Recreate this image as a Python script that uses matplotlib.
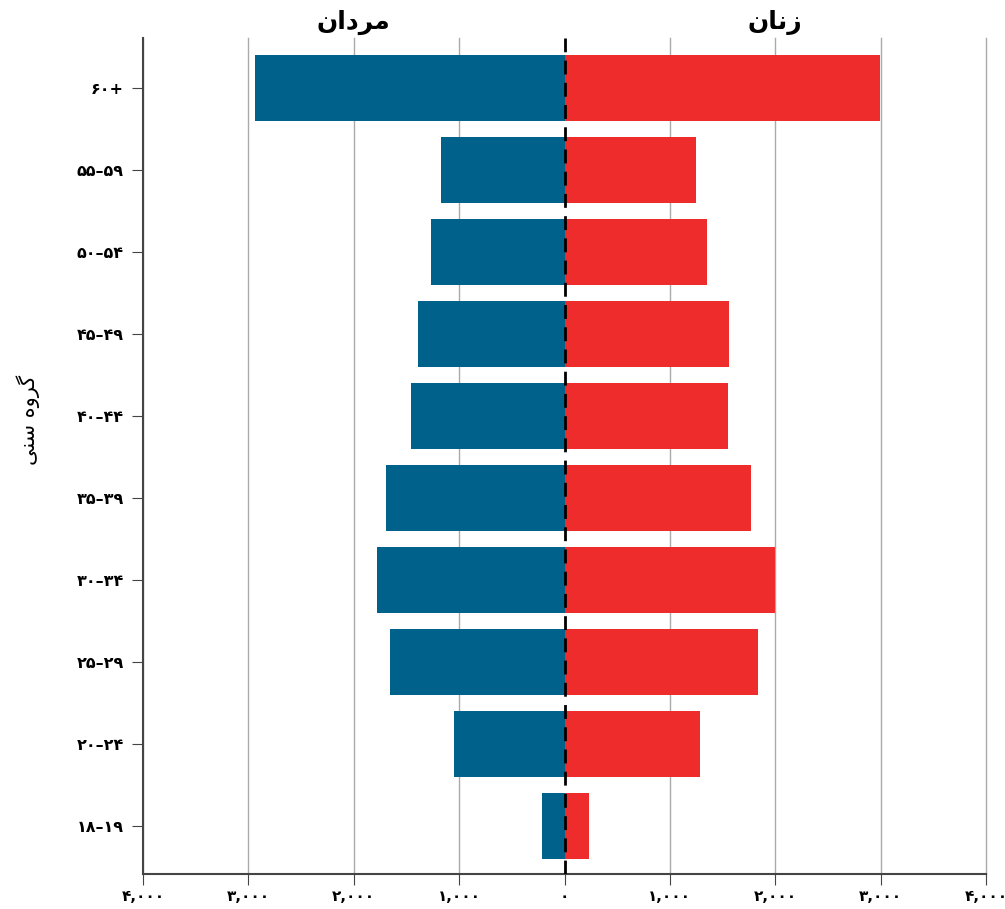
import matplotlib
matplotlib.use("Agg")
import matplotlib.pyplot as plt
import numpy as np

fa_digits = str.maketrans("0123456789", "۰۱۲۳۴۵۶۷۸۹")

age_groups = ["18–19", "20–24", "25–29", "30–34", "35–39", "40–44", "45–49", "50–54", "55–59", "60+"]
men = [218, 1053, 1660, 1784, 1698, 1452, 1395, 1271, 1176, 2940]
women = [228, 1290, 1841, 2002, 1774, 1556, 1565, 1357, 1252, 2998]
x_ticks = [-4000, -3000, -2000, -1000, 0, 1000, 2000, 3000, 4000]

# Pre-shaped visual-order Persian strings (matplotlib has no bidi shaping)
label_men = "\uFEE5\uFE8D\uFEA9\uFEAE\uFEE3"          # مردان
label_women = "\uFEE5\uFE8E\uFEE7\uFEAF"              # زنان
label_age = "\uFEF0\uFEE8\uFEB3 \uFEE9\uFEED\uFEAE\uFB94"  # گروه سنی

blue = "#00628A"
red = "#EE2C2C"

plt.rcParams['font.family'] = ['DejaVu Sans']

fig = plt.figure(figsize=(10.05, 9.09), dpi=100)
ax = fig.add_axes([143/1005, 35/909, (986-143)/1005, (874-38)/909])

y = np.arange(len(age_groups))
ax.barh(y, [-m for m in men], height=0.8, color=blue, zorder=3)
ax.barh(y, women, height=0.8, color=red, zorder=3)

ax.set_xlim(-4000, 4000)
ax.set_ylim(-0.585, 9.61)

ax.set_xticks(x_ticks)
ax.set_xticklabels([f"{abs(v):,}".translate(fa_digits) for v in x_ticks],
                   fontsize=11, fontweight='bold')
ax.set_yticks(y)
ax.set_yticklabels([a.translate(fa_digits) for a in age_groups], fontsize=11.5, fontweight='bold')

for v in x_ticks:
    if v != 0:
        ax.axvline(v, color="#aaaaaa", lw=1, zorder=1, clip_on=False)
ax.axvline(0, color="black", lw=2, ls=(0, (5, 3)), zorder=4)

for s in ["top", "right"]:
    ax.spines[s].set_visible(False)
for s in ["left", "bottom"]:
    ax.spines[s].set_color("#444444")
    ax.spines[s].set_linewidth(1.5)

ax.tick_params(axis='y', length=8, color="#444444", pad=6)
ax.tick_params(axis='x', length=8, color="#444444", pad=3)

ax.text(-2000, 1.003, label_men, transform=ax.get_xaxis_transform(),
        ha='center', va='bottom', fontsize=18, fontweight='bold')
ax.text(2000, 1.003, label_women, transform=ax.get_xaxis_transform(),
        ha='center', va='bottom', fontsize=18, fontweight='bold')

fig.text(28/1005, 1 - 420/909, label_age, rotation=90, ha='center', va='center',
         fontsize=15)

fig.savefig("out.png", dpi=100)
